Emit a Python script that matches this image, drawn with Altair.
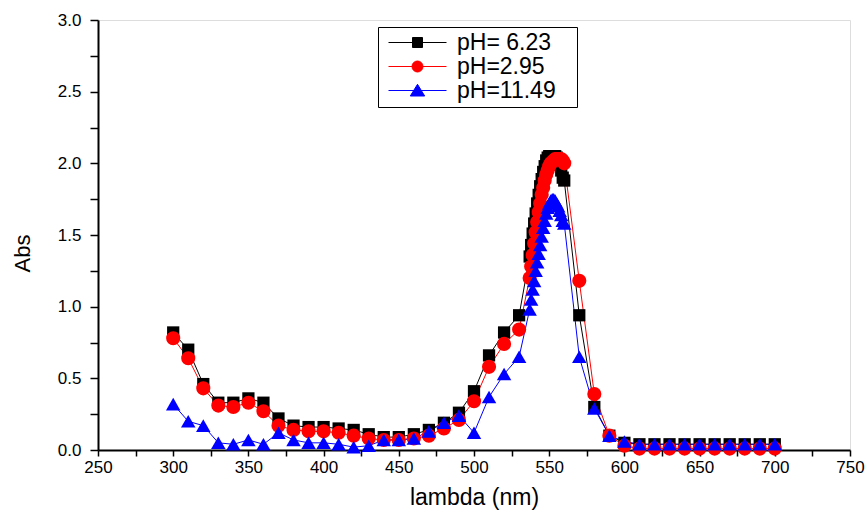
import altair as alt
import pandas as pd

# ---- data ----
lambda_nm = [300, 310, 320, 330, 340, 350, 360, 370, 380, 390, 400, 410, 420, 430,
             440, 450, 460, 470, 480, 490, 500, 510, 520, 530,
             537, 538, 539, 540, 541, 542, 543, 544, 545, 546, 547, 548, 549, 550,
             551, 552, 553, 554, 555, 556, 557, 558, 559, 560,
             570, 580, 590, 600, 610, 620, 630, 640, 650, 660, 670, 680, 690, 700]

abs_ph_623 = [0.82, 0.70, 0.46, 0.33, 0.33, 0.36, 0.33, 0.22, 0.17, 0.16, 0.16, 0.15, 0.14, 0.11,
              0.09, 0.09, 0.11, 0.14, 0.19, 0.26, 0.41, 0.66, 0.82, 0.94,
              1.35, 1.43, 1.51, 1.58, 1.65, 1.72, 1.78, 1.84, 1.89, 1.94, 1.98, 2.02, 2.04, 2.05,
              2.05, 2.05, 2.05, 2.05, 2.04, 2.02, 1.99, 1.95, 1.90, 1.88,
              0.94, 0.30, 0.10, 0.05, 0.04, 0.04, 0.04, 0.04, 0.04, 0.04, 0.04, 0.04, 0.04, 0.04]

abs_ph_295 = [0.78, 0.64, 0.43, 0.31, 0.30, 0.33, 0.27, 0.17, 0.14, 0.13, 0.13, 0.12, 0.10, 0.08,
              0.07, 0.07, 0.08, 0.10, 0.15, 0.21, 0.34, 0.58, 0.74, 0.84,
              1.20, 1.28, 1.36, 1.44, 1.52, 1.59, 1.66, 1.72, 1.78, 1.83, 1.88, 1.92, 1.95, 1.98,
              2.00, 2.01, 2.02, 2.03, 2.03, 2.03, 2.03, 2.03, 2.02, 2.00,
              1.18, 0.39, 0.10, 0.03, 0.01, 0.01, 0.01, 0.01, 0.01, 0.01, 0.01, 0.01, 0.01, 0.01]

abs_ph_1149 = [0.32, 0.20, 0.17, 0.05, 0.04, 0.07, 0.04, 0.12, 0.07, 0.05, 0.05, 0.04, 0.02, 0.03,
               0.07, 0.07, 0.08, 0.13, 0.19, 0.24, 0.12, 0.37, 0.53, 0.65,
               0.98, 1.05, 1.12, 1.18, 1.25, 1.31, 1.37, 1.43, 1.49, 1.55, 1.60, 1.65, 1.69, 1.72,
               1.74, 1.75, 1.75, 1.74, 1.72, 1.70, 1.67, 1.64, 1.60, 1.58,
               0.65, 0.29, 0.10, 0.06, 0.04, 0.04, 0.04, 0.04, 0.04, 0.04, 0.04, 0.04, 0.04, 0.04]

series_names = ["pH= 6.23", "pH=2.95", "pH=11.49"]
series_colors = ["#000000", "#ff0000", "#0000ff"]
series_shapes = ["square", "circle", "triangle-up"]
marker_sizes = [150, 200, 210]
# legend glyphs: short line with the marker in its middle
legend_glyphs = [
    "M-2.9,0H2.9M-0.5,-0.5H0.5V0.5H-0.5Z",
    "M-2.9,0H2.9M-0.55,0A0.55,0.55,0,1,0,0.55,0A0.55,0.55,0,1,0,-0.55,0Z",
    "M-2.9,0H2.9M0,-0.62L0.72,0.55H-0.72Z",
]

rows = []
for name, col, shp, msz, vals in zip(series_names, series_colors, series_shapes, marker_sizes,
                                      [abs_ph_623, abs_ph_295, abs_ph_1149]):
    for lam, v in zip(lambda_nm, vals):
        rows.append({"lambda": lam, "abs": v, "series": name, "col": col,
                     "shp": shp, "msize": msz})
df = pd.DataFrame(rows)

FONT = "Liberation Sans"

x_enc = alt.X("lambda:Q",
              scale=alt.Scale(domain=[250, 750], nice=False, zero=False),
              axis=alt.Axis(values=list(range(250, 751, 25)),
                            labelExpr="datum.value % 50 == 0 ? datum.label : ''",
                            title="lambda (nm)", grid=False,
                            tickSize=6, tickWidth=1.5, tickColor="black",
                            domainWidth=2, domainColor="black",
                            labelFont=FONT, labelFontSize=17, labelColor="black",
                            labelPadding=3, labelFlush=False, labelOverlap=False,
                            titleFont=FONT, titleFontSize=23, titleFontWeight="normal",
                            titleColor="black", titleX=376, titleY=47,
                            titleBaseline="middle"))
y_enc = alt.Y("abs:Q",
              scale=alt.Scale(domain=[0, 3], nice=False),
              axis=alt.Axis(values=[i * 0.25 for i in range(13)],
                            labelExpr="datum.value % 0.5 == 0 ? format(datum.value, '.1f') : ''",
                            title="Abs", grid=False,
                            tickSize=8, tickWidth=1.5, tickColor="black",
                            domainWidth=2, domainColor="black",
                            labelFont=FONT, labelFontSize=17, labelColor="black",
                            labelPadding=9, labelFlush=False, labelOverlap=False,
                            titleFont=FONT, titleFontSize=22, titleFontWeight="normal",
                            titleColor="black", titleX=-76, titleY=233,
                            titleBaseline="middle", titleAlign="center"))

lines = alt.Chart(df).mark_line(strokeWidth=1).encode(
    x=x_enc, y=y_enc,
    color=alt.Color("col:N", scale=None),
    detail="series:N",
)

points = alt.Chart(df).mark_point(filled=True, opacity=1).encode(
    x=x_enc, y=y_enc,
    color=alt.Color("col:N", scale=None),
    shape=alt.Shape("shp:N", scale=None),
    size=alt.Size("msize:Q", scale=None),
)

legend = alt.Legend(
    title=None, orient="none", legendX=280, legendY=7,
    strokeColor="black", fillColor="white", padding=4,
    labelFont=FONT, labelFontSize=23, labelColor="black",
    symbolSize=400, symbolStrokeWidth=1, symbolOffset=24, labelOffset=28,
    rowPadding=0, symbolOpacity=1,
    labelExpr="datum.label + '\u2800'",
)

legend_layer = alt.Chart(df).transform_filter("datum.lambda < 0").mark_point(
    filled=True, strokeWidth=1).encode(
    x=x_enc, y=y_enc,
    fill=alt.Fill("series:N", scale=alt.Scale(domain=series_names, range=series_colors),
                  legend=legend),
    stroke=alt.Stroke("series:N", scale=alt.Scale(domain=series_names, range=series_colors),
                      legend=legend),
    shape=alt.Shape("series:N", scale=alt.Scale(domain=series_names, range=legend_glyphs),
                    legend=legend),
)

chart = alt.layer(lines, points, legend_layer).properties(
    width=752, height=430,
    autosize=alt.AutoSizeParams(type="none"),
    padding={"left": 98, "top": 20, "right": 18, "bottom": 65},
).configure_view(stroke="#444444", strokeWidth=1).configure(background="white")

chart.save("out.html", embed_options={"renderer": "svg", "actions": False})
